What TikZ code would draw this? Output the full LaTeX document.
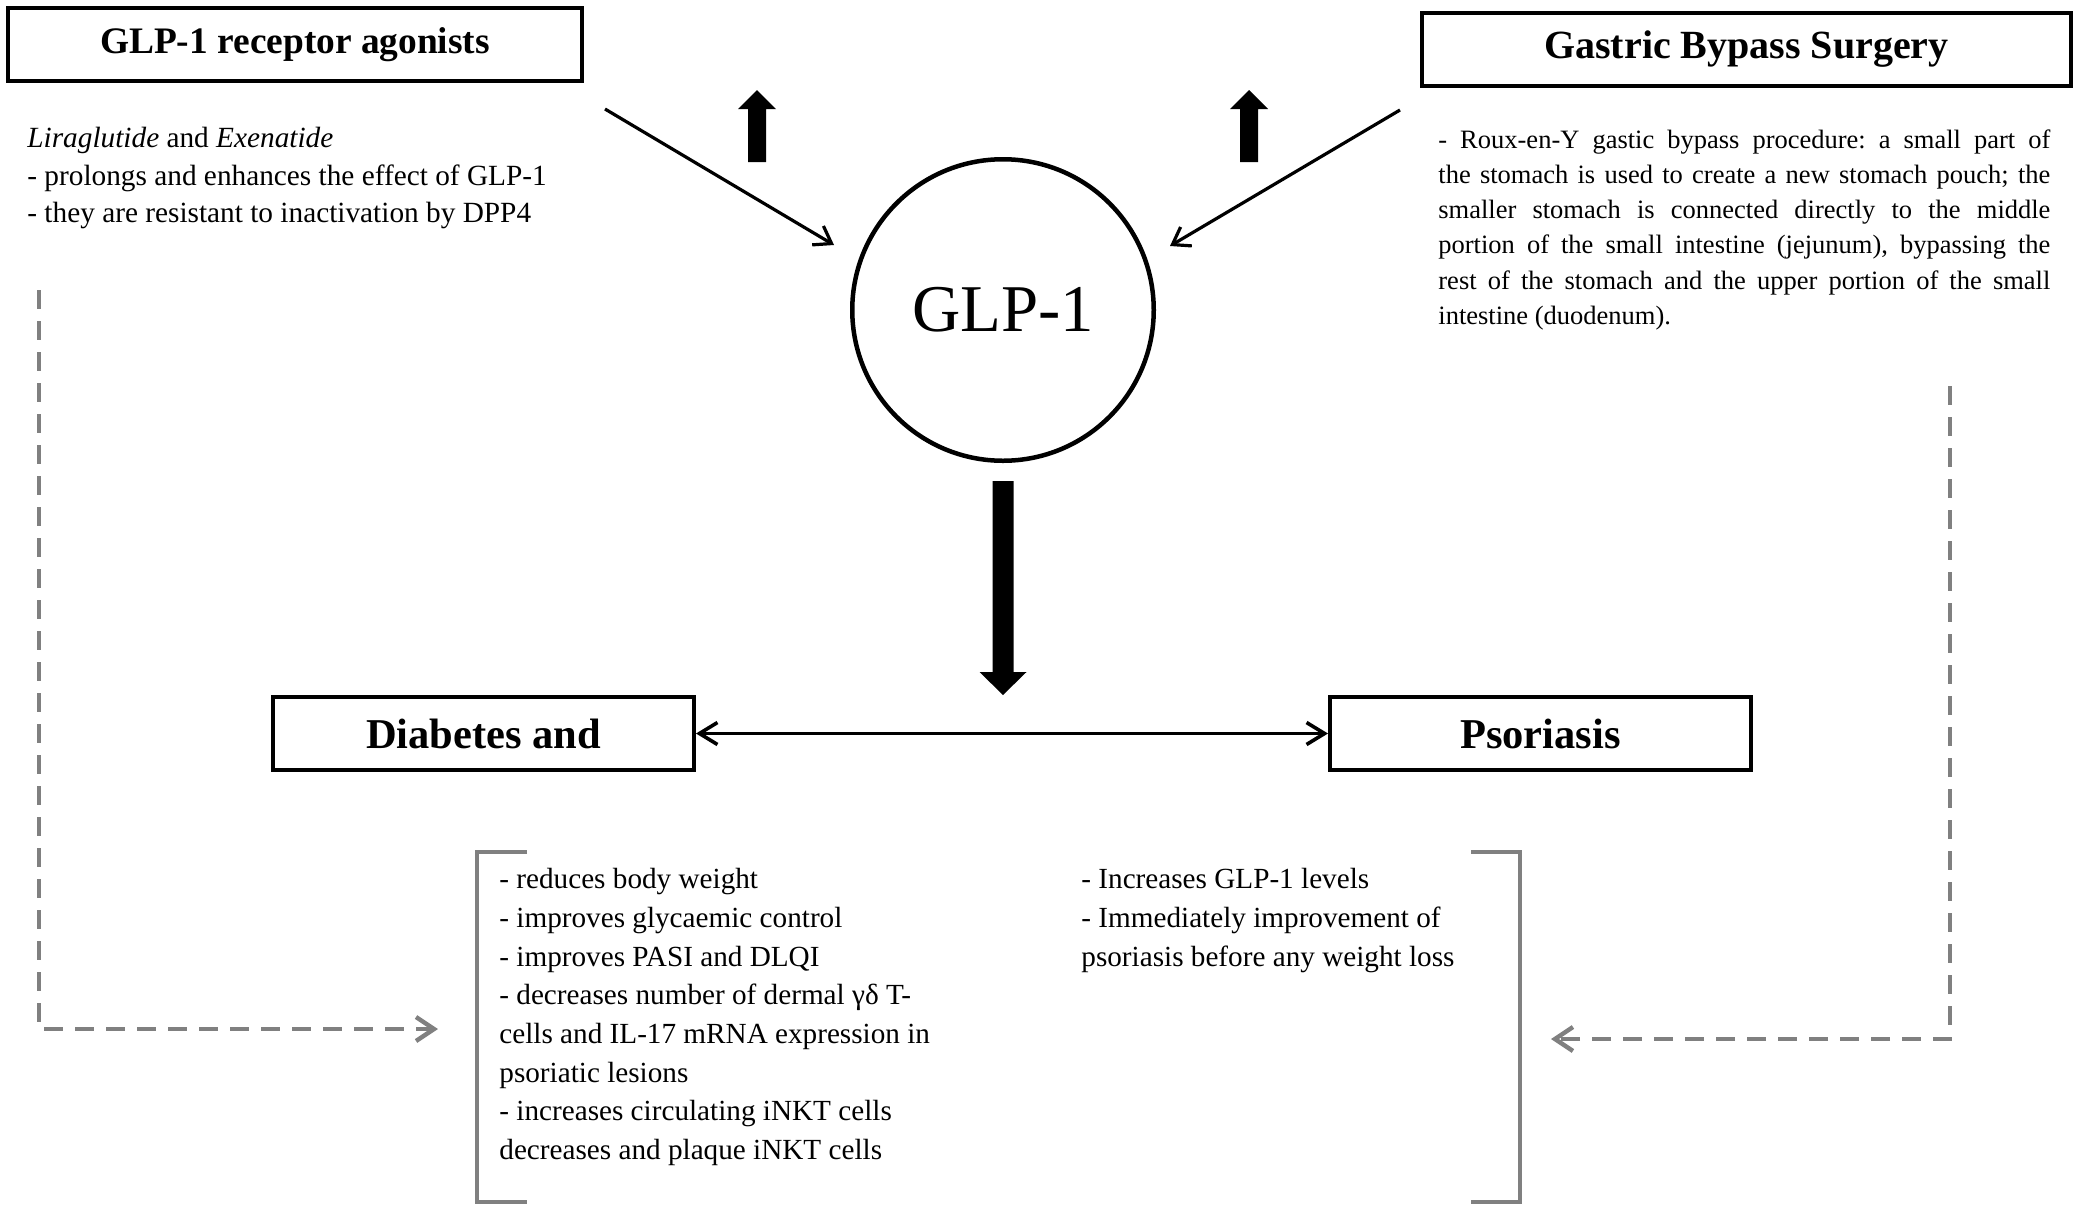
\documentclass[tikz,border=0pt]{standalone}
\usepackage{fontspec}
\setmainfont{Liberation Serif}
\usetikzlibrary{arrows.meta}
\begin{document}
\frenchspacing
\begin{tikzpicture}[x=0.5pt,y=-0.5pt,
  titlebox/.style={draw, line width=2pt, inner sep=0pt, minimum height=36.5pt, font=\bfseries},
  thinarrow/.style={line width=1.6pt, -{Straight Barb[length=8pt,width=11pt,line width=1.6pt]}},
  dblarrow/.style={line width=1.8pt, {Straight Barb[length=9pt,width=11pt,line width=1.8pt]}-{Straight Barb[length=9pt,width=11pt,line width=1.8pt]}},
  dashline/.style={draw=black!50, line width=2.2pt, dash pattern=on 9.5pt off 6pt, -{Straight Barb[length=9pt,width=12pt,line width=2.2pt]}},
  bracketline/.style={draw=black!50, line width=1.7pt},
  bodytext/.style={anchor=north west, inner sep=0pt, align=left}
]
\useasboundingbox (0,0) rectangle (2085,1206);

% title boxes
\node[titlebox, minimum width=287pt, font=\fontsize{18.7}{22}\selectfont\bfseries] (agon) at (295,44.5) {GLP-1 receptor agonists};
\node[titlebox, minimum width=324.5pt, font=\fontsize{20}{24}\selectfont\bfseries] (gbs) at (1746.5,49.5) {Gastric Bypass Surgery};
\node[titlebox, minimum width=210.5pt, font=\fontsize{21.25}{25}\selectfont\bfseries] (diab) at (483.5,733.5) {Diabetes and};
\node[titlebox, minimum width=210.5pt, font=\fontsize{21.25}{25}\selectfont\bfseries] (psor) at (1540.5,733.5) {Psoriasis};

% central circle
\node[circle, draw, line width=2.25pt, minimum size=150.75pt, inner sep=0pt, font=\fontsize{33.4}{40}\selectfont] (glp) at (1003,310) {GLP-1};

% descriptive texts
\node[bodytext, font=\fontsize{14.65}{18.75}\selectfont] (agontext) at (27,127)
  {\textit{Liraglutide} and \textit{Exenatide}\\
   - prolongs and enhances the effect of GLP-1\\
   - they are resistant to inactivation by DPP4};

\node[bodytext, font=\fontsize{13.25}{17.65}\selectfont] (gbstext) at (1438,129)
  {\hbox to 306pt{- Roux-en-Y gastic bypass procedure: a small part of}\\
   \hbox to 306pt{the stomach is used to create a new stomach pouch; the}\\
   \hbox to 306pt{smaller stomach is connected directly to the middle}\\
   \hbox to 306pt{portion of the small intestine (jejunum), bypassing the}\\
   \hbox to 306pt{rest of the stomach and the upper portion of the small}\\
   intestine (duodenum).};

\node[bodytext, font=\fontsize{14.6}{19.35}\selectfont] (efftext) at (499,868)
  {- reduces body weight\\
   - improves glycaemic control\\
   - improves PASI and DLQI\\
   - decreases number of dermal γδ T-\\
   cells and IL-17 mRNA expression in\\
   psoriatic lesions\\
   - increases circulating iNKT cells\\
   decreases and plaque iNKT cells};

\node[bodytext, font=\fontsize{14.6}{19.35}\selectfont] (gbseff) at (1081,868)
  {- Increases GLP-1 levels\\
   - Immediately improvement of\\
   psoriasis before any weight loss};

% brackets
\draw[bracketline] (527,852) -- (477,852) -- (477,1202) -- (527,1202);
\draw[bracketline] (1471,852) -- (1520,852) -- (1520,1202) -- (1471,1202);

% diagonal arrows
\coordinate (la1) at (605,109);
\coordinate (la2) at (834,245);
\coordinate (ra1) at (1400,110);
\coordinate (ra2) at (1170,246);
\draw[thinarrow] (la1) -- (la2);
\draw[thinarrow] (ra1) -- (ra2);

% thick up arrows
\foreach \cx in {757,1249}{
  \fill (\cx-9,162) -- (\cx-9,109) -- (\cx-19,109) -- (\cx,90) -- (\cx+19,109) -- (\cx+9,109) -- (\cx+9,162) -- cycle;
}
% thick down arrow
\fill (992.5,481) -- (992.5,672) -- (979.5,672) -- (1003,695) -- (1026.5,672) -- (1013.5,672) -- (1013.5,481) -- cycle;

% double arrow
\draw[dblarrow] (diab.east) -- (psor.west);

% dashed connectors
\coordinate (dl1) at (39,290);
\coordinate (dl2) at (438,1029);
\coordinate (dr1) at (1950,386);
\coordinate (dr2) at (1551,1039);
\draw[dashline] (dl1) |- (dl2);
\draw[dashline] (dr1) |- (dr2);
\end{tikzpicture}
\end{document}
